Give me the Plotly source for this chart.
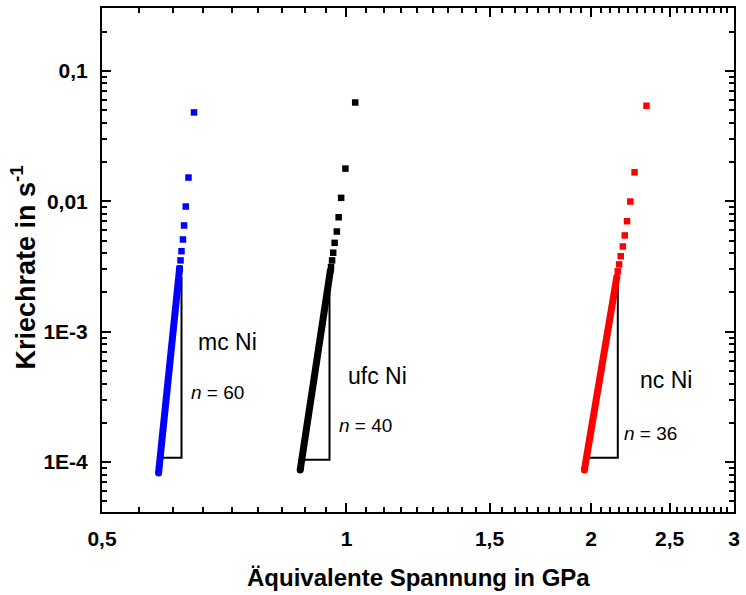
import math
import plotly.graph_objects as go

# ---- data ----
# sparse high-rate points (stress in GPa, creep rate in 1/s)
mc_x = [0.649, 0.639, 0.634, 0.631, 0.629, 0.6264, 0.6247, 0.623]
mc_y = [0.048, 0.0152, 0.00911, 0.00652, 0.00509, 0.00414, 0.00352, 0.00305]
ufc_x = [1.025, 0.997, 0.985, 0.978, 0.973, 0.967, 0.963, 0.960, 0.957]
ufc_y = [0.0572, 0.0178, 0.01062, 0.00754, 0.00586, 0.0048, 0.00403, 0.00352, 0.00313]
nc_x = [2.341, 2.263, 2.236, 2.215, 2.201, 2.189, 2.176, 2.166, 2.158]
nc_y = [0.054, 0.01667, 0.00995, 0.00703, 0.00547, 0.0045, 0.00379, 0.00328, 0.0029]

# dense low-rate bands (end points)
mc_dense_x = [0.623, 0.587]
mc_dense_y = [0.00305, 8.26e-5]
ufc_dense_x = [0.9555, 0.877]
ufc_dense_y = [0.00295, 8.7e-5]
nc_dense_x = [2.152, 1.963]
nc_dense_y = [0.00262, 8.7e-5]

# slope triangles
mc_tri_x = [0.6264, 0.6264, 0.5896]
mc_tri_y = [0.00262, 1.08e-4, 1.08e-4]
ufc_tri_x = [0.953, 0.953, 0.8867]
ufc_tri_y = [0.00256, 1.04e-4, 1.04e-4]
nc_tri_x = [2.158, 2.158, 1.978]
nc_tri_y = [0.00262, 1.08e-4, 1.08e-4]

labels = ["mc Ni", "ufc Ni", "nc Ni"]
n_labels = ["<i>n</i> = 60", "<i>n</i> = 40", "<i>n</i> = 36"]

x_ticks = [0.5, 1, 1.5, 2, 2.5, 3]
x_ticktext = ["0,5", "1", "1,5", "2", "2,5", "3"]
y_ticks = [0.1, 0.01, 1e-3, 1e-4]
y_ticktext = ["0,1", "0,01", "1E-3", "1E-4"]

colors = ["#0000ff", "#000000", "#ff0000"]

fig = go.Figure()

series = [
    (mc_x, mc_y, mc_dense_x, mc_dense_y, mc_tri_x, mc_tri_y),
    (ufc_x, ufc_y, ufc_dense_x, ufc_dense_y, ufc_tri_x, ufc_tri_y),
    (nc_x, nc_y, nc_dense_x, nc_dense_y, nc_tri_x, nc_tri_y),
]
for (sx, sy, dx, dy, tx, ty), c in zip(series, colors):
    fig.add_trace(go.Scatter(x=tx, y=ty, mode="lines",
                             line=dict(color="black", width=2), showlegend=False))
    fig.add_trace(go.Scatter(x=dx, y=dy, mode="lines+markers",
                             line=dict(color=c, width=7),
                             marker=dict(symbol="circle", size=7, color=c),
                             showlegend=False))
    fig.add_trace(go.Scatter(x=sx, y=sy, mode="markers",
                             marker=dict(symbol="square", size=6.5, color=c, line=dict(width=0)),
                             showlegend=False))

# annotation positions (log10 units on log axes)
lab_pos = [(0.653, 8.3e-4), (0.998, 4.56e-4), (2.285, 4.25e-4)]
n_pos = [(0.640, 3.44e-4), (0.973, 1.92e-4), (2.184, 1.67e-4)]
for t, (px, py) in zip(labels, lab_pos):
    fig.add_annotation(x=math.log10(px), y=math.log10(py), text=t, showarrow=False,
                       xanchor="left", yanchor="middle",
                       font=dict(family="Liberation Sans", size=23, color="black"))
for t, (px, py) in zip(n_labels, n_pos):
    fig.add_annotation(x=math.log10(px), y=math.log10(py), text=t, showarrow=False,
                       xanchor="left", yanchor="middle",
                       font=dict(family="Liberation Sans", size=19, color="black"))

# axis titles
fig.add_annotation(xref="paper", yref="paper", x=0.5, y=-0.13, yanchor="middle",
                   text="Äquivalente Spannung in GPa", showarrow=False,
                   font=dict(family="Liberation Sans", size=24, color="black", weight="bold"))
fig.add_annotation(xref="paper", yref="paper", x=-0.125, y=0.485, xanchor="center",
                   text="Kriechrate in s<sup>-1</sup>", showarrow=False, textangle=-90,
                   font=dict(family="Liberation Sans", size=27, color="black", weight="bold"))

# minor tick positions (Origin style: 8 minors per major step)
x_minor = []
for i in range(5):
    base = 0.5 + 0.5 * i
    for k in range(1, 9):
        x_minor.append(base + 0.5 * k / 9)
y_minor = []
for e in range(-5, 0):
    for m in range(2, 10):
        y_minor.append(m * 10 ** e)

axis_common = dict(type="log", showline=True, linecolor="black", linewidth=2,
                   mirror="allticks", ticks="inside", ticklen=9, tickwidth=2,
                   tickcolor="black", showgrid=False, zeroline=False,
                   tickfont=dict(family="Liberation Sans Narrow, Liberation Sans", size=21,
                                 color="black", weight="bold"))

fig.update_xaxes(**axis_common, range=[math.log10(0.5), math.log10(3)],
                 tickmode="array", tickvals=x_ticks, ticktext=x_ticktext,
                 ticklabelstandoff=7,
                 minor=dict(tickmode="array", tickvals=x_minor, ticks="inside",
                            ticklen=5, tickwidth=1.5, tickcolor="black", showgrid=False))
fig.update_yaxes(**axis_common, range=[-4.383, -0.518],
                 tickmode="array", tickvals=y_ticks, ticktext=y_ticktext,
                 ticklabelstandoff=8,
                 minor=dict(tickmode="array", tickvals=y_minor, ticks="inside",
                            ticklen=5, tickwidth=1.5, tickcolor="black", showgrid=False))

fig.update_layout(width=746, height=595,
                  margin=dict(l=102, r=6, t=7, b=83),
                  plot_bgcolor="white", paper_bgcolor="white",
                  showlegend=False)

fig.write_html("out.html")
